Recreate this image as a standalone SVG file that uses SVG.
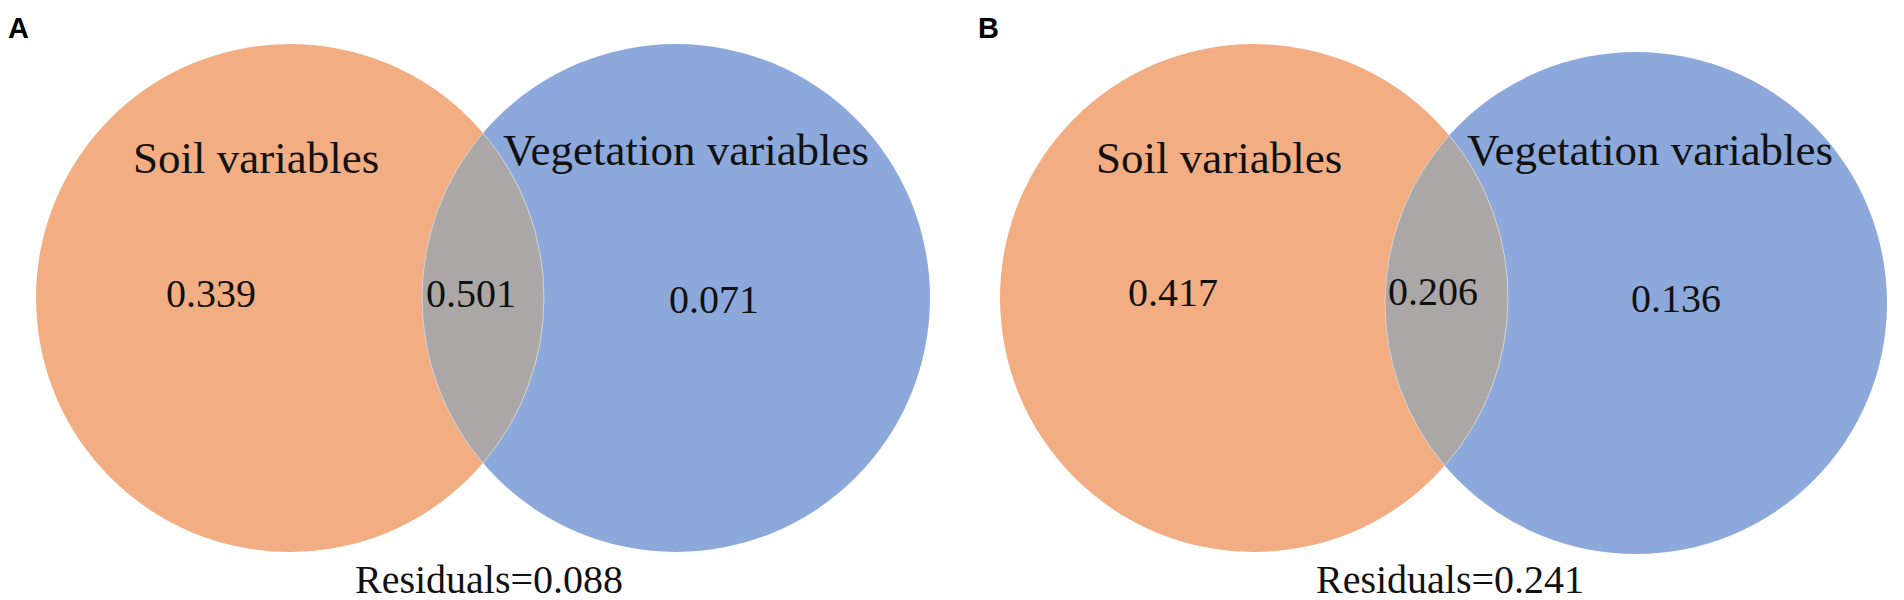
<svg xmlns="http://www.w3.org/2000/svg" width="1904" height="600" viewBox="0 0 1904 600">
<style>
.soil{fill:#F2AE82}
.veg{fill:#8DA9DB}
.both{fill:#ABA7A6;stroke:#E6E6E6;stroke-width:1;stroke-opacity:0.7}
.lbl{font-family:"Liberation Serif","Times New Roman",serif;font-size:45px;fill:#111}
.num{font-family:"Liberation Serif","Times New Roman",serif;font-size:40px;fill:#111}
.panel{font-family:"Liberation Sans",Arial,sans-serif;font-size:29px;font-weight:bold;fill:#000}
</style>
<rect width="1904" height="600" fill="#fff"/>
<g id="panelA">
  <text class="panel" x="8" y="38">A</text>
  <g id="A-soil"><circle class="soil" cx="290" cy="298" r="254"/></g>
  <g id="A-veg"><circle class="veg" cx="676" cy="298" r="254"/></g>
  <g id="A-overlap"><path class="both" d="M483,132.9 A254,254 0 0,1 483,463.1 A254,254 0 0,1 483,132.9 Z"/></g>
  <text class="lbl" x="133" y="173">Soil variables</text>
  <text class="lbl" x="503" y="165">Vegetation variables</text>
  <text class="num" x="166" y="307">0.339</text>
  <text class="num" x="426" y="307">0.501</text>
  <text class="num" x="669" y="313">0.071</text>
  <text class="num" x="355" y="593">Residuals=0.088</text>
</g>
<g id="panelB">
  <text class="panel" x="978" y="38">B</text>
  <g id="B-soil"><circle class="soil" cx="1254" cy="298" r="254"/></g>
  <g id="B-veg"><circle class="veg" cx="1636" cy="303" r="251"/></g>
  <g id="B-overlap"><path class="both" d="M1449.2,135.4 A254,254 0 0,1 1444.8,465.6 A251,251 0 0,1 1449.2,135.4 Z"/></g>
  <text class="lbl" x="1096" y="173">Soil variables</text>
  <text class="lbl" x="1467" y="165">Vegetation variables</text>
  <text class="num" x="1128" y="306">0.417</text>
  <text class="num" x="1388" y="305">0.206</text>
  <text class="num" x="1631" y="312">0.136</text>
  <text class="num" x="1316" y="593">Residuals=0.241</text>
</g>
<g id="connectors"></g>
</svg>
